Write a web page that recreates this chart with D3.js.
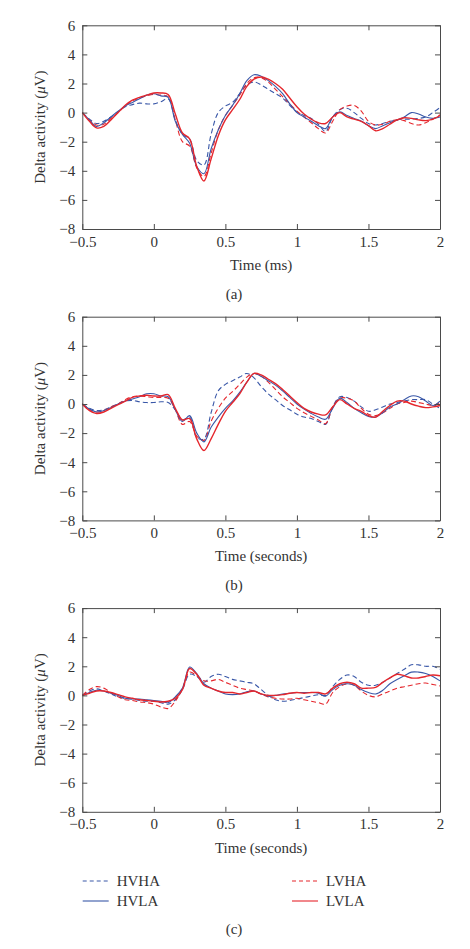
<!DOCTYPE html>
<html><head><meta charset="utf-8">
<script src="https://cdn.jsdelivr.net/npm/d3@7"></script>
<style>
body{margin:0;background:#fff}
svg{display:block}
text{font-family:"Liberation Serif","Times New Roman",serif;fill:#333}
</style>
</head><body>
<svg id="chart" width="470" height="949"></svg>
<script>
// ---------- DATA ----------
const timePoints = [-0.5,-0.45,-0.4,-0.35,-0.3,-0.25,-0.2,-0.15,-0.1,-0.05,0,0.05,0.1,0.15,0.2,0.25,0.3,0.35,0.4,0.45,0.5,0.55,0.6,0.65,0.7,0.75,0.8,0.85,0.9,0.95,1.0,1.05,1.1,1.15,1.2,1.25,1.3,1.35,1.4,1.45,1.5,1.55,1.6,1.65,1.7,1.75,1.8,1.85,1.9,1.95,2.0];

const seriesNames = ["HVHA","HVLA","LVHA","LVLA"];

// Panel (a)
const aHVHA = [0,-0.45,-0.75,-0.6,-0.3,0.05,0.4,0.55,0.65,0.6,0.6,0.75,0.95,-0.5,-1.5,-1.8,-3.3,-3.6,-1.5,0.0,0.45,0.7,1.3,1.9,2.1,1.9,1.6,1.3,1.0,0.5,0.05,-0.2,-0.4,-0.8,-1.3,-0.3,0.2,0.3,0.0,-0.4,-0.75,-0.85,-0.75,-0.6,-0.5,-0.45,-0.45,-0.4,-0.3,0.0,0.35];
const aHVLA = [0,-0.5,-0.95,-0.7,-0.3,0.1,0.45,0.7,0.95,1.2,1.3,1.15,1.05,-0.6,-1.5,-2.1,-3.7,-4.2,-2.5,-1.2,-0.2,0.5,1.3,2.2,2.6,2.5,2.2,1.8,1.3,0.6,0.0,-0.3,-0.6,-0.9,-1.1,-0.3,0.05,-0.2,-0.4,-0.6,-0.9,-1.1,-0.9,-0.7,-0.5,-0.3,0.0,-0.1,-0.3,-0.4,-0.3];
const aLVHA = [0,-0.5,-0.85,-0.8,-0.4,0.0,0.45,0.8,1.0,1.15,1.25,1.2,1.1,-0.5,-2.0,-2.3,-3.8,-4.4,-2.8,-1.2,-0.2,0.5,1.2,2.0,2.4,2.4,2.1,1.6,1.1,0.6,0.1,-0.3,-0.7,-1.1,-1.4,-0.6,0.2,0.45,0.5,0.1,-0.6,-0.85,-0.8,-0.6,-0.5,-0.55,-0.75,-0.85,-0.7,-0.45,-0.15];
const aLVLA = [0,-0.6,-1.05,-0.95,-0.5,0.0,0.5,0.85,1.05,1.2,1.35,1.35,1.25,-0.1,-1.4,-1.8,-3.7,-4.7,-3.2,-1.6,-0.5,0.2,0.9,1.8,2.3,2.45,2.3,2.0,1.6,1.0,0.4,-0.1,-0.45,-0.7,-0.75,-0.3,0.0,-0.3,-0.45,-0.6,-0.9,-1.25,-1.1,-0.8,-0.5,-0.35,-0.4,-0.5,-0.55,-0.45,-0.2];

// Panel (b)
const bHVHA = [0,-0.3,-0.45,-0.4,-0.2,0.0,0.2,0.25,0.15,0.1,0.1,0.15,0.1,-0.4,-1.1,-0.9,-2.3,-2.4,-0.6,0.9,1.35,1.6,1.85,2.1,1.8,1.2,0.7,0.3,-0.1,-0.4,-0.7,-0.9,-1.0,-1.2,-1.4,-0.2,0.5,0.45,0.2,-0.2,-0.5,-0.4,-0.2,0.0,0.1,0.2,0.3,0.3,0.3,0.0,-0.3];
const bHVLA = [0,-0.35,-0.55,-0.45,-0.25,0.0,0.2,0.35,0.5,0.7,0.7,0.55,0.5,-0.4,-1.2,-0.8,-2.0,-2.6,-1.6,-0.9,-0.3,0.2,0.8,1.5,2.1,1.9,1.6,1.3,0.9,0.45,0.0,-0.35,-0.65,-0.9,-1.05,-0.3,0.4,0.1,-0.3,-0.6,-0.85,-0.9,-0.6,-0.2,0.0,0.3,0.55,0.5,0.2,-0.1,0.2];
const bLVHA = [0,-0.4,-0.55,-0.45,-0.2,0.0,0.3,0.5,0.55,0.5,0.45,0.45,0.4,-0.4,-1.4,-1.2,-2.2,-2.5,-1.2,-0.3,0.4,0.85,1.35,1.85,2.1,1.9,1.5,1.0,0.5,0.1,-0.3,-0.6,-0.85,-1.1,-1.35,-0.2,0.4,0.4,0.2,-0.3,-0.7,-0.8,-0.6,-0.3,0.0,0.1,0.2,0.1,0.0,-0.1,0.1];
const bLVLA = [0,-0.45,-0.65,-0.55,-0.3,-0.05,0.2,0.45,0.55,0.6,0.55,0.55,0.65,-0.3,-1.1,-1.0,-2.4,-3.2,-2.4,-1.4,-0.5,0.1,0.7,1.5,2.1,2.0,1.7,1.4,1.0,0.55,0.1,-0.3,-0.55,-0.7,-0.75,-0.2,0.3,0.0,-0.3,-0.5,-0.8,-0.9,-0.5,-0.1,0.2,0.2,0.0,-0.15,-0.25,-0.2,-0.1];

// Panel (c)
const cHVHA = [0,0.3,0.45,0.3,0.1,-0.1,-0.2,-0.25,-0.35,-0.4,-0.4,-0.5,-0.6,-0.3,0.4,1.45,1.3,0.9,1.3,1.45,1.3,1.1,1.0,0.9,0.8,0.4,0.0,-0.3,-0.4,-0.35,-0.25,-0.15,-0.05,0.05,0.0,0.6,1.1,1.4,1.3,0.9,0.7,0.7,0.9,1.2,1.5,1.8,2.1,2.1,2.0,2.0,1.8];
const cHVLA = [0,0.2,0.35,0.3,0.15,0.0,-0.2,-0.25,-0.25,-0.3,-0.35,-0.4,-0.5,-0.1,0.5,1.95,1.5,0.8,0.5,0.3,0.1,0.05,0.1,0.25,0.3,0.1,-0.05,0.0,0.1,0.15,0.2,0.2,0.2,0.15,-0.05,0.4,0.7,0.8,0.7,0.4,0.2,0.1,0.35,0.8,1.1,1.35,1.6,1.6,1.5,1.3,1.0];
const cLVHA = [0,0.4,0.6,0.5,0.2,-0.1,-0.3,-0.35,-0.45,-0.5,-0.6,-0.8,-0.9,-0.4,0.5,1.6,1.35,1.0,1.0,1.1,0.9,0.7,0.5,0.4,0.3,0.1,-0.1,-0.2,-0.25,-0.25,-0.2,-0.3,-0.4,-0.5,-0.6,0.2,0.6,0.8,0.7,0.3,0.0,-0.1,0.1,0.3,0.5,0.6,0.7,0.8,0.85,0.75,0.65];
const cLVLA = [0,0.15,0.3,0.3,0.2,0.05,-0.1,-0.2,-0.3,-0.35,-0.4,-0.45,-0.4,-0.2,0.4,1.85,1.45,0.7,0.5,0.3,0.2,0.2,0.1,0.2,0.3,0.1,0.0,0.0,0.05,0.15,0.2,0.15,0.2,0.2,0.1,0.5,0.8,0.9,0.8,0.5,0.5,0.55,0.9,1.2,1.45,1.35,1.2,1.2,1.3,1.4,1.35];

const xTickValues = [-0.5,0,0.5,1,1.5,2];
const xTickLabels = ["\u22120.5","0","0.5","1","1.5","2"];
const yTickValues = [-8,-6,-4,-2,0,2,4,6];
const yTickLabels = ["\u22128","\u22126","\u22124","\u22122","0","2","4","6"];
const xTitles = ["Time (ms)","Time (seconds)","Time (seconds)"];
const captions = ["(a)","(b)","(c)"];

const panelData = [
  [aHVHA,aHVLA,aLVHA,aLVLA],
  [bHVHA,bHVLA,bLVHA,bLVLA],
  [cHVHA,cHVLA,cLVHA,cLVLA]
];

// ---------- STYLE ----------
const BLUE = "#3a58a8", RED = "#e5262c";
const seriesStyle = {
  HVHA:{color:BLUE, dash:"5,3", width:1.1},
  HVLA:{color:BLUE, dash:null, width:1.1},
  LVHA:{color:RED, dash:"5,3", width:1.1},
  LVLA:{color:RED, dash:null, width:1.4}
};

const svg = d3.select("#chart");
const left = 82.3, right = 440, plotH = 203.7;
const tops = [25.3, 316.7, 608.1];
const axisColor = "#4a4a4a";

const x = d3.scaleLinear().domain([-0.5,2]).range([left,right]);

panelData.forEach((series, i) => {
  const top = tops[i], bottom = top + plotH;
  const y = d3.scaleLinear().domain([-8,6]).range([bottom, top]);
  const g = svg.append("g");

  const line = d3.line()
    .x((d,k) => x(timePoints[k]))
    .y(d => y(d))
    .curve(d3.curveCatmullRom.alpha(0.5));

  [0,2,1,3].forEach(s => {
    const st = seriesStyle[seriesNames[s]];
    g.append("path")
      .attr("d", line(series[s]))
      .attr("fill","none")
      .attr("stroke", st.color)
      .attr("stroke-width", st.width)
      .attr("stroke-dasharray", st.dash)
      .attr("stroke-linejoin","round");
  });

  const styleAxis = sel => {
    sel.selectAll("path.domain").attr("stroke", axisColor).attr("stroke-width",1);
    sel.selectAll(".tick line").attr("stroke", axisColor);
    sel.selectAll("text").attr("font-family","'Liberation Serif','Times New Roman',serif")
      .attr("font-size",15).attr("fill","#333");
  };

  g.append("g").attr("transform",`translate(0,${bottom})`)
    .call(d3.axisBottom(x).tickValues(xTickValues).tickFormat((d,k)=>xTickLabels[k])
      .tickSizeInner(-5).tickSizeOuter(0).tickPadding(7))
    .call(styleAxis);
  g.append("g").attr("transform",`translate(0,${top})`)
    .call(d3.axisTop(x).tickValues(xTickValues).tickFormat("")
      .tickSizeInner(-5).tickSizeOuter(0))
    .call(styleAxis);
  g.append("g").attr("transform",`translate(${left},0)`)
    .call(d3.axisLeft(y).tickValues(yTickValues).tickFormat((d,k)=>yTickLabels[k])
      .tickSizeInner(-5).tickSizeOuter(0).tickPadding(7))
    .call(styleAxis);
  g.append("g").attr("transform",`translate(${right},0)`)
    .call(d3.axisRight(y).tickValues(yTickValues).tickFormat("")
      .tickSizeInner(-5).tickSizeOuter(0))
    .call(styleAxis);
  g.selectAll(".domain").attr("fill","none");

  const yt = g.append("text")
    .attr("transform",`translate(45,${top + plotH/2}) rotate(-90)`)
    .attr("text-anchor","middle")
    .attr("font-size",15);
  yt.append("tspan").text("Delta activity (");
  yt.append("tspan").attr("font-style","italic").text("\u03bc");
  yt.append("tspan").text("V)");

  g.append("text")
    .attr("x",(left+right)/2).attr("y",bottom + 41)
    .attr("text-anchor","middle").attr("font-size",15)
    .text(xTitles[i]);

  const capY = i === 2 ? 934 : bottom + 70;
  g.append("text")
    .attr("x",234).attr("y",capY)
    .attr("text-anchor","middle").attr("font-size",15)
    .text(captions[i]);
});

// legend
const legendPos = [
  {name:"HVHA", x:82.7, y:881},
  {name:"HVLA", x:82.7, y:901},
  {name:"LVHA", x:292, y:881},
  {name:"LVLA", x:292, y:901}
];
const lg = svg.append("g");
legendPos.forEach(p => {
  const st = seriesStyle[p.name];
  lg.append("line")
    .attr("x1",p.x).attr("x2",p.x+26).attr("y1",p.y).attr("y2",p.y)
    .attr("stroke",st.color).attr("stroke-width",1.1)
    .attr("stroke-dasharray", st.dash ? "4,3" : null);
  lg.append("text")
    .attr("x",p.x+34).attr("y",p.y+5)
    .attr("font-size",15)
    .text(p.name);
});
</script>
</body></html>
